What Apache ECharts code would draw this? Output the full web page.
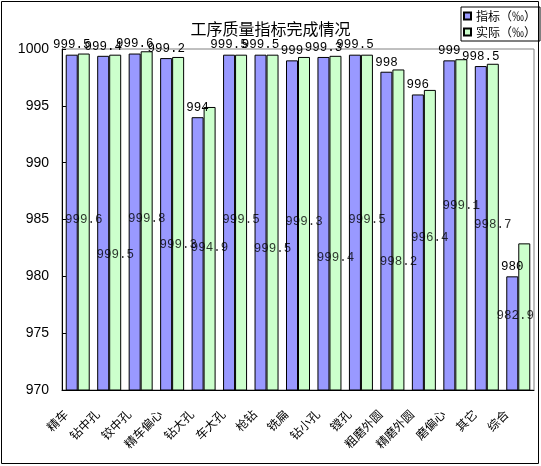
<!DOCTYPE html>
<html>
<head>
<meta charset="utf-8">
<script src="https://cdn.jsdelivr.net/npm/echarts@6/dist/echarts.min.js"></script>
<style>
  html, body { margin: 0; padding: 0; background: #fff; }
  #main { width: 541px; height: 466px; }
</style>
</head>
<body>
<div id="main"></div>
<script>
var categories = ['精车', '钻中孔', '铰中孔', '精车偏心', '钻大孔', '车大孔', '枪钻', '铣扁',
  '钻小孔', '镗孔', '粗磨外圆', '精磨外圆', '磨偏心', '其它', '综合'];
var targetValues = [999.5, 999.4, 999.6, 999.2, 994, 999.5, 999.5, 999, 999.3, 999.5, 998, 996, 999, 998.5, 980];
var actualValues = [999.6, 999.5, 999.8, 999.3, 994.9, 999.5, 999.5, 999.3, 999.4, 999.5, 998.2, 996.4, 999.1, 998.7, 982.9];
// where the "actual" value labels sit in the original chart (axis units)
var actualLabelAt = [985.0, 981.9, 985.1, 982.8, 982.5, 985.0, 982.4, 984.85, 981.6, 985.0, 981.3, 983.4, 986.2, 984.5, 976.5];
var yMin = 970, yMax = 1000, yStep = 5;

var myChart = echarts.init(document.getElementById('main'));
myChart.setOption({
    backgroundColor: '#fff',
    animation: false,
    textStyle: { color: '#000' },
    title: {
        text: '工序质量指标完成情况',
        left: 'center',
        top: 16,
        textStyle: { fontSize: 16, fontWeight: 'normal', color: '#000', fontFamily: 'Noto Sans CJK SC' }
    },
    legend: {
        data: ['指标（‰）', '实际（‰）'],
        orient: 'vertical',
        left: 461,
        top: 7,
        padding: [3, 4, 3, 2],
        itemWidth: 7,
        itemHeight: 7,
        itemGap: 4,
        icon: 'rect',
        borderColor: '#000',
        borderWidth: 1,
        textStyle: { fontSize: 12, color: '#000', fontFamily: 'Noto Sans CJK SC' }
    },
    grid: {
        show: true,
        borderColor: '#808080',
        borderWidth: 1,
        left: 62, right: 7, top: 49, bottom: 76
    },
    xAxis: {
        type: 'category',
        data: categories,
        axisLine: { lineStyle: { color: '#000' } },
        axisTick: { inside: true, length: 4, lineStyle: { color: '#000' } },
        axisLabel: {
            interval: 0,
            rotate: 45,
            margin: 10,
            padding: [0, 17, 0, 0],
            fontSize: 12,
            color: '#000',
            fontFamily: 'Noto Sans CJK SC'
        }
    },
    yAxis: {
        type: 'value',
        min: yMin,
        max: yMax,
        interval: yStep,
        axisLine: { show: true, lineStyle: { color: '#000' } },
        axisTick: { show: true, inside: true, length: 4, lineStyle: { color: '#000' } },
        axisLabel: {
            fontSize: 14, margin: 13, color: '#000', fontFamily: 'Liberation Sans',
            formatter: function (v) { return String(v); }
        },
        splitLine: { show: false }
    },
    series: [
        {
            name: '指标（‰）',
            type: 'bar',
            barWidth: 12,
            barGap: 0,
            data: targetValues,
            itemStyle: { color: '#9999FF', borderColor: '#000', borderWidth: 1 },
            label: {
                show: true,
                position: 'top',
                distance: 3,
                fontSize: 12.5,
                color: '#000',
                fontFamily: 'Liberation Mono'
            }
        },
        {
            name: '实际（‰）',
            type: 'bar',
            barWidth: 12,
            barGap: 0,
            data: actualValues,
            itemStyle: { color: '#CCFFCC', borderColor: '#000', borderWidth: 1 }
        },
        {
            name: 'actualLabels',
            type: 'scatter',
            z: 5,
            symbolSize: 1,
            itemStyle: { color: 'rgba(0,0,0,0)' },
            data: categories.map(function (c, i) {
                var item = { value: [i, actualLabelAt[i], actualValues[i]] };
                // last label is pulled back inside the plot, as in the original
                if (i === categories.length - 1) item.label = { offset: [-3, 0] };
                return item;
            }),
            label: {
                show: true,
                position: 'inside',
                offset: [6, 0],
                fontSize: 12.5,
                color: '#000',
                fontFamily: 'Liberation Mono',
                formatter: function (p) { return p.value[2]; }
            }
        }
    ],
    graphic: [{
        type: 'rect',
        shape: { x: 1.5, y: 1.5, width: 537, height: 462 },
        style: { fill: 'none', stroke: '#000', lineWidth: 1 },
        silent: true
    }]
});
</script>
</body>
</html>
